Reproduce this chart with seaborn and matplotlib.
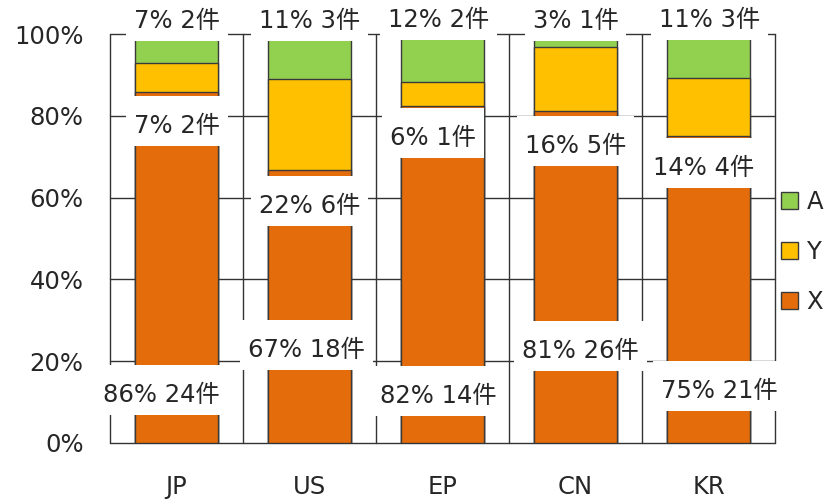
import matplotlib
matplotlib.use("Agg")
import matplotlib.pyplot as plt
from matplotlib.patches import Rectangle, Patch
import numpy as np
import pandas as pd
import seaborn as sns

# --- data -------------------------------------------------------------
countries = ["JP", "US", "EP", "CN", "KR"]
series = ["X", "Y", "A"]
count_x = [24, 18, 14, 26, 21]
count_y = [2, 6, 1, 5, 4]
count_a = [2, 3, 2, 1, 3]

# --- label layout (x offset in category units, baseline y in %) ---------
label_dx = {
    "X": [-0.11, -0.02, -0.03, 0.04, 0.08],
    "Y": [0.0, 0.0, -0.07, 0.0, -0.04],
    "A": [0.0, 0.0, -0.03, 0.0, 0.01],
}
label_base = {
    "X": [10.0, 21.0, 9.8, 20.8, 11.0],
    "Y": [75.8, 56.2, 72.9, 70.9, 65.5],
    "A": [101.5, 101.5, 101.6, 101.5, 101.6],
}

colors = {"X": "#E46C0A", "Y": "#FFC000", "A": "#92D050"}
edge = "#3a3a3a"
line_col = "#333333"
text_col = "#262626"

counts = pd.DataFrame({"country": countries, "X": count_x, "Y": count_y, "A": count_a})
counts["total"] = counts[series].sum(axis=1)
for s in series:
    counts[s + "_pct"] = counts[s] / counts["total"] * 100
counts["cum_X"] = counts["X_pct"]
counts["cum_Y"] = counts["X_pct"] + counts["Y_pct"]
counts["cum_A"] = counts["cum_Y"] + counts["A_pct"]

sns.set_theme(style="white")
plt.rcParams["font.family"] = ["DejaVu Sans", "Noto Sans CJK JP"]
FS = 17.5

fig = plt.figure(figsize=(8.3, 5.04), dpi=100)
ax = fig.add_axes([110 / 830, 61 / 504, 665 / 830, 409 / 504])

# stacked bars: draw cumulative layers from the top series down
for s in ["A", "Y", "X"]:
    sns.barplot(data=counts, x="country", y="cum_" + s, color=colors[s],
                saturation=1, width=0.62, edgecolor=edge, linewidth=1.0,
                errorbar=None, ax=ax, zorder=2)

ax.set_xlim(-0.5, len(countries) - 0.5)
ax.set_ylim(0, 100)
for sp in ax.spines.values():
    sp.set_visible(False)

# grid: horizontal at 20% steps, vertical at category boundaries
for yv in range(0, 101, 20):
    ax.axhline(yv, color=line_col, lw=1.0, zorder=0.5, clip_on=False)
for i in range(len(countries) + 1):
    ax.axvline(i - 0.5, color=line_col, lw=1.0, zorder=0.5, clip_on=False)

ax.set_yticks(range(0, 101, 20))
ax.set_yticklabels([f"{v}%" for v in range(0, 101, 20)])
ax.tick_params(axis="y", length=0, pad=19, labelsize=FS, labelcolor=text_col)
ax.tick_params(axis="x", length=0, pad=23, labelsize=FS, labelcolor=text_col)
ax.set_xlabel("")
ax.set_ylabel("")

# data labels
texts = []
for s in series:
    for i, c in enumerate(countries):
        pct = counts.loc[i, s + "_pct"]
        n = counts.loc[i, s]
        t = ax.text(i + label_dx[s][i], label_base[s][i], f"{round(pct)}% {n}件",
                    ha="center", va="baseline", fontsize=FS, color=text_col,
                    zorder=6, clip_on=False)
        texts.append(t)

fig.canvas.draw()
renderer = fig.canvas.get_renderer()
px = fig.dpi / 100.0
inv = ax.transData.inverted()
for t in texts:
    bb = t.get_window_extent(renderer)
    xb, yb = ax.transData.transform(t.get_position())
    x0, x1 = bb.x0 - 8 * px, bb.x1 + 8 * px
    y0, y1 = yb - 13 * px, yb + 37 * px
    (dx0, dy0), (dx1, dy1) = inv.transform([(x0, y0), (x1, y1)])
    ax.add_patch(Rectangle((dx0, dy0), dx1 - dx0, dy1 - dy0, facecolor="white",
                           edgecolor="none", zorder=5, clip_on=False))

# legend
handles = [Patch(facecolor=colors[s], edgecolor=edge, linewidth=1.0) for s in ["A", "Y", "X"]]
fig.legend(handles, ["A", "Y", "X"], loc="center left", bbox_to_anchor=(781 / 830, 0.5),
           frameon=False, fontsize=FS, handlelength=0.7, handleheight=0.7,
           handletextpad=0.35, labelspacing=1.05, borderpad=0, borderaxespad=0,
           labelcolor=text_col)

fig.savefig("out.png", dpi=100)
